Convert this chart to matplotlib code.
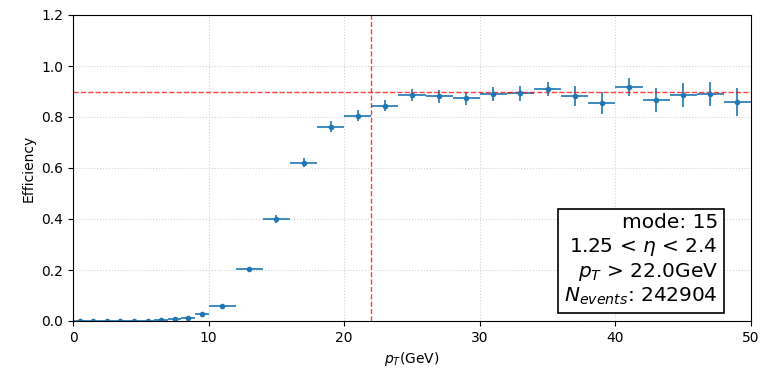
import matplotlib
matplotlib.use("Agg")
import matplotlib.pyplot as plt
import numpy as np

# bin centres and half widths (GeV)
pt_centers = [0.5, 1.5, 2.5, 3.5, 4.5, 5.5, 6.5, 7.5, 8.5, 9.5,
              11, 13, 15, 17, 19, 21, 23, 25, 27, 29,
              31, 33, 35, 37, 39, 41, 43, 45, 47, 49]
pt_halfwidth = [0.5] * 10 + [1.0] * 20

efficiency = [0.0, 0.0, 0.0, 0.0, 0.0, 0.001, 0.003, 0.0065, 0.012, 0.029,
              0.057, 0.203, 0.400, 0.620, 0.762, 0.805, 0.845, 0.886, 0.881, 0.873,
              0.890, 0.893, 0.910, 0.883, 0.855, 0.919, 0.868, 0.885, 0.891, 0.857]
eff_err = [0.0, 0.0, 0.0, 0.0, 0.0, 0.001, 0.002, 0.003, 0.004, 0.006,
           0.007, 0.010, 0.014, 0.018, 0.022, 0.022, 0.023, 0.023, 0.025, 0.027,
           0.029, 0.030, 0.028, 0.038, 0.044, 0.035, 0.047, 0.047, 0.048, 0.055]

pt_cut = 22.0
eff_level = 0.9
mode = 15
eta_lo, eta_hi = 1.25, 2.4
n_events = 242904

fig = plt.figure(figsize=(7.61, 3.76), dpi=100)
ax = fig.add_axes([73 / 761, 1 - 321 / 376, 678 / 761, 306 / 376])

ax.errorbar(pt_centers, efficiency, xerr=pt_halfwidth, yerr=eff_err,
            fmt='.', color='tab:blue', elinewidth=1.2, markersize=6)
ax.axvline(pt_cut, color='red', linestyle='--', linewidth=1, alpha=0.75)
ax.axhline(eff_level, color='red', linestyle='--', linewidth=1, alpha=0.75)

ax.set_xlim(0, 50)
ax.set_ylim(0, 1.2)
ax.grid(linestyle=':', color='lightgray', linewidth=0.8)
ax.set_axisbelow(True)
ax.set_xlabel('$p_T$(GeV)')
ax.set_ylabel('Efficiency')

label = (f"mode: {mode}\n"
         f"{eta_lo} < $\\eta$ < {eta_hi}\n"
         f"$p_T$ > {pt_cut}GeV\n"
         f"$N_{{events}}$: {n_events}")
ax.text(0.951, 0.045, label, transform=ax.transAxes, ha='right', va='bottom',
        fontsize=14.5, multialignment='right',
        bbox=dict(boxstyle='square,pad=0.3', facecolor='white', edgecolor='black', linewidth=1.2))

fig.savefig('out.png', dpi=100)
